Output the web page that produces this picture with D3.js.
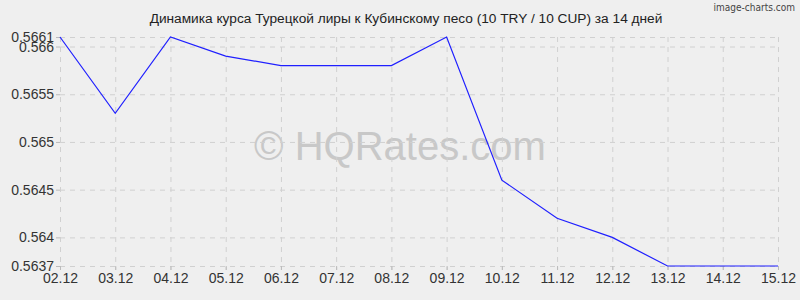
<!DOCTYPE html>
<html>
<head>
<meta charset="utf-8">
<script src="https://cdn.jsdelivr.net/npm/d3@7"></script>
<style>
  body{margin:0;background:#efefef;}
  svg{display:block;font-family:"Liberation Sans",Arial,sans-serif;}
</style>
</head>
<body>
<div id="chart"></div>
<script>
var dates = ["02.12","03.12","04.12","05.12","06.12","07.12","08.12","09.12","10.12","11.12","12.12","13.12","14.12","15.12"];
var rates = [0.5661,0.5653,0.5661,0.5659,0.5658,0.5658,0.5658,0.5661,0.5646,0.5642,0.5640,0.5637,0.5637,0.5637];
var yTicks = [0.5637,0.564,0.5645,0.565,0.5655,0.566,0.5661];

var width = 800, height = 300;
var marginLeft = 60, marginRight = 22, marginTop = 37, marginBottom = 34;

var svg = d3.select("#chart").append("svg")
	.attr("width",width)
	.attr("height",height);

svg.append("rect").attr("width",width).attr("height",height).attr("fill","#efefef");

var x = d3.scalePoint()
	.domain(dates)
	.range([marginLeft,width-marginRight]);
var y = d3.scaleLinear()
	.domain([d3.min(rates),d3.max(rates)])
	.range([height-marginBottom,marginTop]);

//watermark
svg.append("text")
	.attr("x",400)
	.attr("y",160)
	.attr("text-anchor","middle")
	.style("font-size","40px")
	.style("fill","#c8c8c8")
	.text("© HQRates.com");

//grid
svg.append("g").selectAll("line")
	.data(yTicks)
	.enter().append("line")
	.attr("x1",marginLeft).attr("x2",width-marginRight)
	.attr("y1",function(d){return y(d)+0.5}).attr("y2",function(d){return y(d)+0.5})
	.style("stroke","#d0d0d0")
	.attr("stroke-dasharray","5, 5");
svg.append("g").selectAll("line")
	.data(dates)
	.enter().append("line")
	.attr("x1",function(d){return x(d)+0.5}).attr("x2",function(d){return x(d)+0.5})
	.attr("y1",marginTop).attr("y2",height-marginBottom+4)
	.style("stroke","#d0d0d0")
	.attr("stroke-dasharray","5, 5");

//axes
var yAxis = svg.append("g")
	.attr("transform","translate("+marginLeft+",0)")
	.call(d3.axisLeft(y).tickValues(yTicks).tickSize(4).tickPadding(2).tickFormat(function(d){return String(+d.toFixed(4))}));
var xAxis = svg.append("g")
	.attr("transform","translate(0,"+(height-marginBottom)+")")
	.call(d3.axisBottom(x).tickSize(4).tickPadding(3));
[yAxis,xAxis].forEach(function(a){
	a.select(".domain").remove();
	a.selectAll("line").style("stroke","#bbbbbb");
	a.selectAll("text").style("font-size","14px").style("fill","#333333").attr("font-family","Liberation Sans, Arial, sans-serif");
});

//line
svg.append("path")
	.datum(rates)
	.attr("d",d3.line().x(function(d,i){return x(dates[i])}).y(function(d){return y(d)}))
	.style("fill","none")
	.style("stroke","#1f1fff")
	.style("stroke-width","1.2px");

//title
svg.append("text")
	.attr("x",406)
	.attr("y",23)
	.attr("text-anchor","middle")
	.style("font-size","13.7px")
	.style("fill","#222222")
	.text("Динамика курса Турецкой лиры к Кубинскому песо (10 TRY / 10 CUP) за 14 дней");

svg.append("text")
	.attr("x",795)
	.attr("y",11)
	.attr("text-anchor","end")
	.style("font-size","10px")
	.style("font-family","DejaVu Sans Condensed, DejaVu Sans, sans-serif")
	.style("font-stretch","condensed")
	.style("fill","#444444")
	.text("image-charts.com");
</script>
</body>
</html>
